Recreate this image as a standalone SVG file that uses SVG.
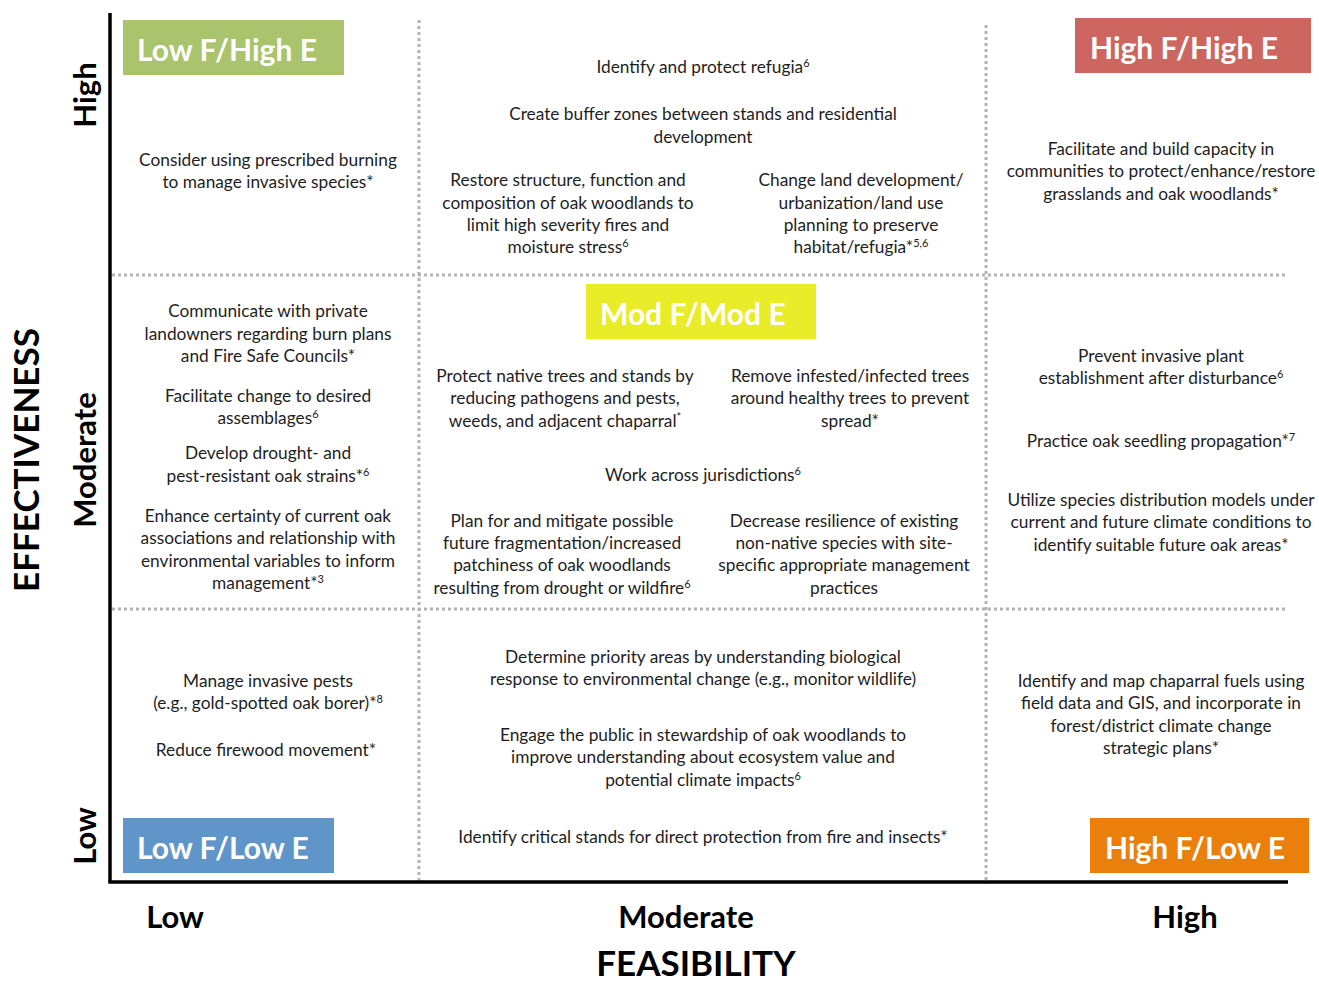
<svg xmlns="http://www.w3.org/2000/svg" width="1319" height="981" viewBox="0 0 1319 981">
  <style>
    .t { font-family: Lato, "Open Sans", sans-serif; font-size: 17.3px; fill: #1e1e1e; text-anchor: middle; }
    .sup { font-size: 11px; }
    .tag { font-family: Lato, "Open Sans", sans-serif; font-size: 30px; font-weight: bold; fill: #ffffff; }
    .ax { font-family: Lato, "Open Sans", sans-serif; font-size: 31px; font-weight: bold; fill: #000; text-anchor: middle; }
    .title { font-family: Lato, "Open Sans", sans-serif; font-size: 35px; font-weight: bold; fill: #000; text-anchor: middle; }
    .grid { stroke: #b4b4b4; stroke-width: 3; stroke-dasharray: 3 3; fill: none; }
    .axis { stroke: #000; stroke-width: 3.5; fill: none; }
  </style>

  <rect width="1319" height="981" fill="#ffffff"/>

  <!-- grid and axes -->
  <g id="connectors">
    <line class="grid" x1="419" y1="20" x2="419" y2="882"/>
    <line class="grid" x1="986" y1="25" x2="986" y2="884"/>
    <line class="grid" x1="112" y1="275" x2="1286" y2="275"/>
    <line class="grid" x1="112" y1="609" x2="1286" y2="609"/>
    <line class="axis" x1="110" y1="13" x2="110" y2="883"/>
    <line class="axis" x1="108.5" y1="882" x2="1288" y2="882"/>
  </g>

  <!-- axis labels -->
  <g id="axis-labels">
    <text class="ax" transform="translate(96,95) rotate(-90)">High</text>
    <text class="ax" transform="translate(96,460) rotate(-90)">Moderate</text>
    <text class="ax" transform="translate(96,836) rotate(-90)">Low</text>
    <text class="title" transform="translate(39,460) rotate(-90)">EFFECTIVENESS</text>
    <text class="ax" x="175" y="928">Low</text>
    <text class="ax" x="686" y="928">Moderate</text>
    <text class="ax" x="1185" y="928">High</text>
    <text class="title" x="696" y="976">FEASIBILITY</text>
  </g>

  <!-- category tags -->
  <g id="tag-low-high">
    <rect x="123" y="20" width="221" height="55" fill="#a9c46c"/>
    <text class="tag" x="137" y="61">Low F/High E</text>
  </g>
  <g id="tag-high-high">
    <rect x="1075" y="18" width="236" height="55" fill="#cd665f"/>
    <text class="tag" x="1090" y="59">High F/High E</text>
  </g>
  <g id="tag-mod-mod">
    <rect x="586" y="284" width="230" height="55" fill="#e9ec29"/>
    <text class="tag" x="600" y="325">Mod F/Mod E</text>
  </g>
  <g id="tag-low-low">
    <rect x="123" y="818" width="211" height="55" fill="#5f95c9"/>
    <text class="tag" x="137" y="859">Low F/Low E</text>
  </g>
  <g id="tag-high-low">
    <rect x="1090" y="818" width="219" height="55" fill="#eb7f0c"/>
    <text class="tag" x="1105" y="859">High F/Low E</text>
  </g>

  <!-- high effectiveness row -->
  <g id="cell-low-high">
    <text class="t" x="268" y="166">Consider using prescribed burning</text>
    <text class="t" x="268" y="188">to manage invasive species*</text>
  </g>
  <g id="cell-mod-high">
    <text class="t" x="703" y="73">Identify and protect refugia<tspan class="sup" dy="-6">6</tspan></text>
    <text class="t" x="703" y="120">Create buffer zones between stands and residential</text>
    <text class="t" x="703" y="143">development</text>
    <text class="t" x="568" y="186">Restore structure, function and</text>
    <text class="t" x="568" y="209">composition of oak woodlands to</text>
    <text class="t" x="568" y="231">limit high severity fires and</text>
    <text class="t" x="568" y="253">moisture stress<tspan class="sup" dy="-6">6</tspan></text>
    <text class="t" x="861" y="186">Change land development/</text>
    <text class="t" x="861" y="209">urbanization/land use</text>
    <text class="t" x="861" y="231">planning to preserve</text>
    <text class="t" x="861" y="253">habitat/refugia*<tspan class="sup" dy="-6">5,6</tspan></text>
  </g>
  <g id="cell-high-high">
    <text class="t" x="1161" y="155">Facilitate and build capacity in</text>
    <text class="t" x="1161" y="177">communities to protect/enhance/restore</text>
    <text class="t" x="1161" y="200">grasslands and oak woodlands*</text>
  </g>

  <!-- moderate effectiveness row -->
  <g id="cell-low-mod">
    <text class="t" x="268" y="317">Communicate with private</text>
    <text class="t" x="268" y="340">landowners regarding burn plans</text>
    <text class="t" x="268" y="362">and Fire Safe Councils*</text>
    <text class="t" x="268" y="402">Facilitate change to desired</text>
    <text class="t" x="268" y="424">assemblages<tspan class="sup" dy="-6">6</tspan></text>
    <text class="t" x="268" y="459">Develop drought- and</text>
    <text class="t" x="268" y="482">pest-resistant oak strains*<tspan class="sup" dy="-6">6</tspan></text>
    <text class="t" x="268" y="522">Enhance certainty of current oak</text>
    <text class="t" x="268" y="544">associations and relationship with</text>
    <text class="t" x="268" y="567">environmental variables to inform</text>
    <text class="t" x="268" y="589">management*<tspan class="sup" dy="-6">3</tspan></text>
  </g>
  <g id="cell-mod-mod">
    <text class="t" x="565" y="382">Protect native trees and stands by</text>
    <text class="t" x="565" y="404">reducing pathogens and pests,</text>
    <text class="t" x="565" y="427">weeds, and adjacent chaparral<tspan class="sup" dy="-6">*</tspan></text>
    <text class="t" x="850" y="382">Remove infested/infected trees</text>
    <text class="t" x="850" y="404">around healthy trees to prevent</text>
    <text class="t" x="850" y="427">spread*</text>
    <text class="t" x="703" y="481">Work across jurisdictions<tspan class="sup" dy="-6">6</tspan></text>
    <text class="t" x="562" y="527">Plan for and mitigate possible</text>
    <text class="t" x="562" y="549">future fragmentation/increased</text>
    <text class="t" x="562" y="571">patchiness of oak woodlands</text>
    <text class="t" x="562" y="594">resulting from drought or wildfire<tspan class="sup" dy="-6">6</tspan></text>
    <text class="t" x="844" y="527">Decrease resilience of existing</text>
    <text class="t" x="844" y="549">non-native species with site-</text>
    <text class="t" x="844" y="571">specific appropriate management</text>
    <text class="t" x="844" y="594">practices</text>
  </g>
  <g id="cell-high-mod">
    <text class="t" x="1161" y="362">Prevent invasive plant</text>
    <text class="t" x="1161" y="384">establishment after disturbance<tspan class="sup" dy="-6">6</tspan></text>
    <text class="t" x="1161" y="447">Practice oak seedling propagation*<tspan class="sup" dy="-6">7</tspan></text>
    <text class="t" x="1161" y="506">Utilize species distribution models under</text>
    <text class="t" x="1161" y="528">current and future climate conditions to</text>
    <text class="t" x="1161" y="551">identify suitable future oak areas*</text>
  </g>

  <!-- low effectiveness row -->
  <g id="cell-low-low">
    <text class="t" x="268" y="687">Manage invasive pests</text>
    <text class="t" x="268" y="709">(e.g., gold-spotted oak borer)*<tspan class="sup" dy="-6">8</tspan></text>
    <text class="t" x="266" y="756">Reduce firewood movement*</text>
  </g>
  <g id="cell-mod-low">
    <text class="t" x="703" y="663">Determine priority areas by understanding biological</text>
    <text class="t" x="703" y="685">response to environmental change (e.g., monitor wildlife)</text>
    <text class="t" x="703" y="741">Engage the public in stewardship of oak woodlands to</text>
    <text class="t" x="703" y="763">improve understanding about ecosystem value and</text>
    <text class="t" x="703" y="786">potential climate impacts<tspan class="sup" dy="-6">6</tspan></text>
    <text class="t" x="703" y="843">Identify critical stands for direct protection from fire and insects*</text>
  </g>
  <g id="cell-high-low">
    <text class="t" x="1161" y="687">Identify and map chaparral fuels using</text>
    <text class="t" x="1161" y="709">field data and GIS, and incorporate in</text>
    <text class="t" x="1161" y="732">forest/district climate change</text>
    <text class="t" x="1161" y="754">strategic plans*</text>
  </g>
</svg>
